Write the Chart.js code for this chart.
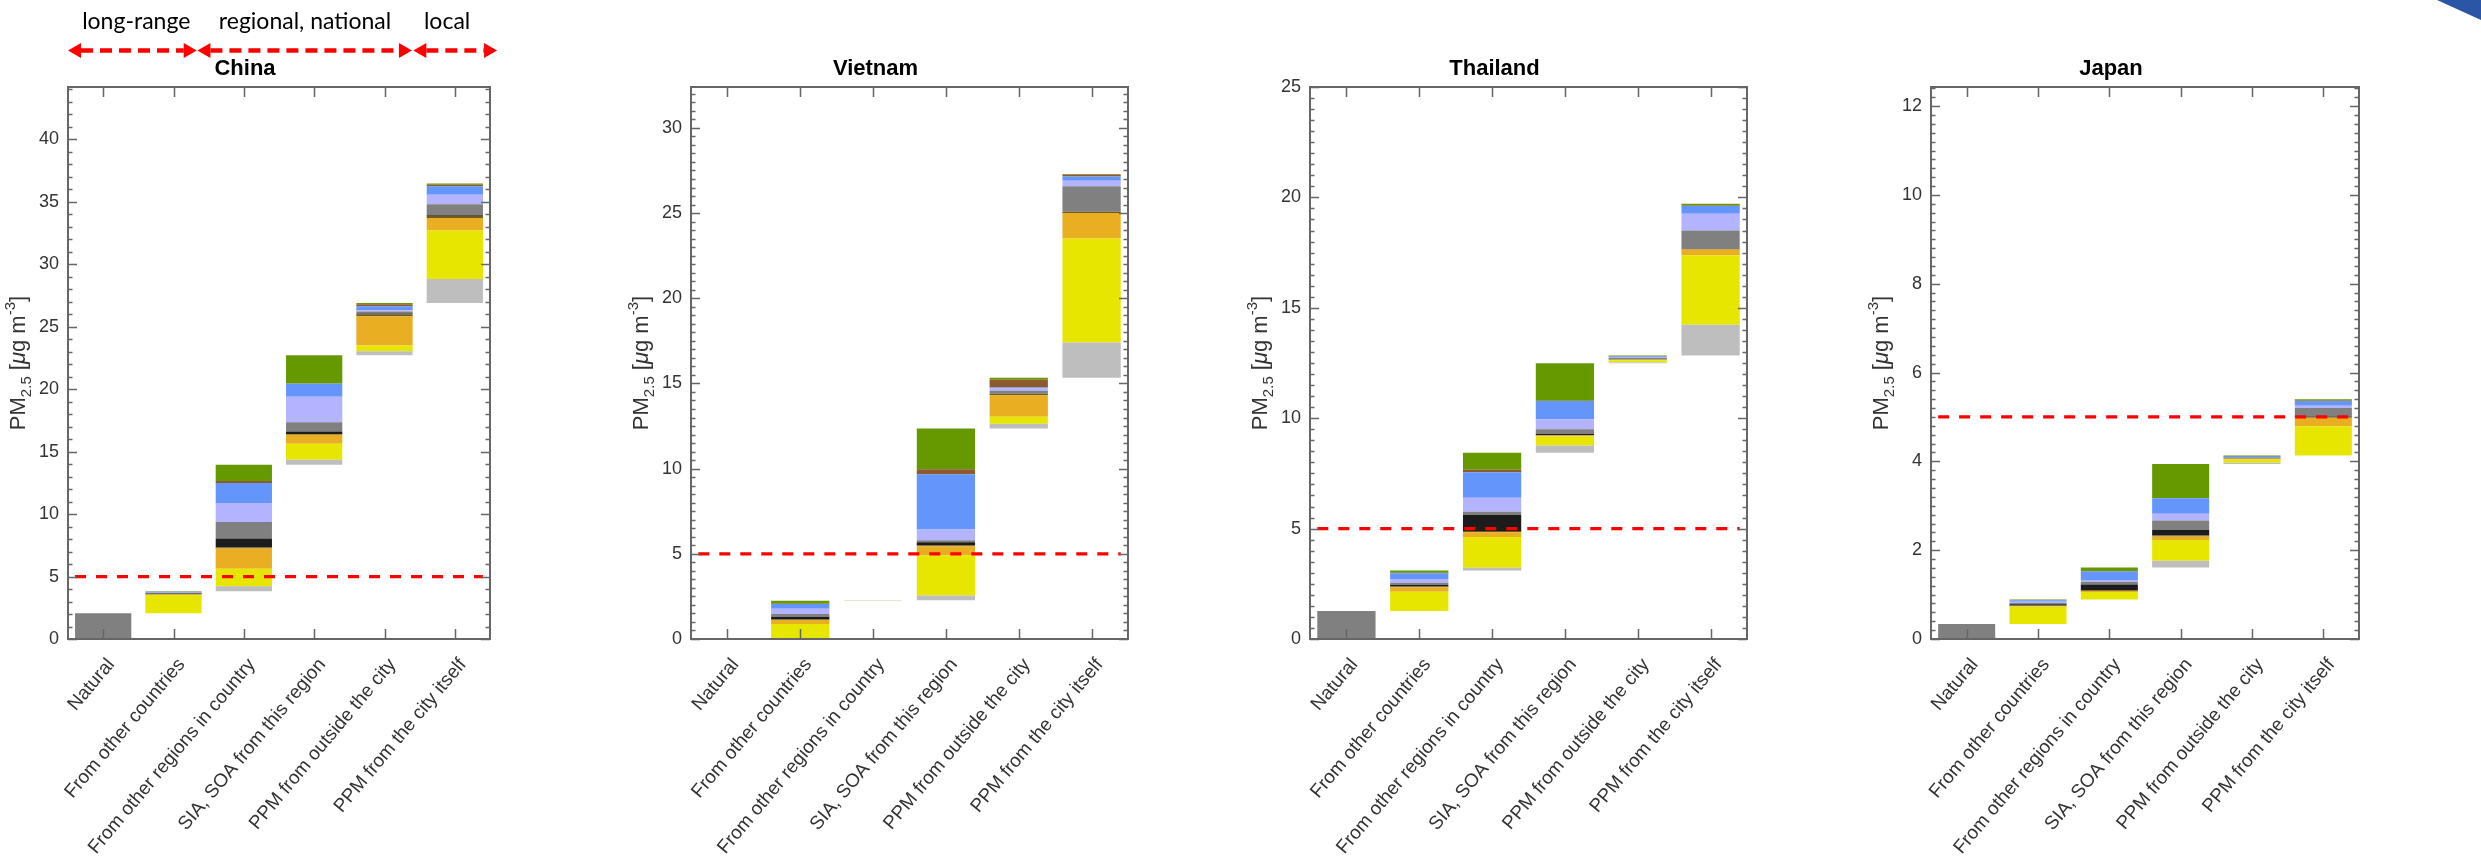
<!DOCTYPE html>
<html>
<head>
<meta charset="utf-8">
<title>PM2.5 source contributions</title>
<script src="https://cdn.jsdelivr.net/npm/chart.js@4.4.1/dist/chart.umd.min.js"></script>
<style>
  html, body { margin: 0; padding: 0; background: #ffffff; }
  body { width: 2481px; height: 861px; position: relative; overflow: hidden; }
  canvas { position: absolute; top: 0; }
  .corner { position: absolute; left: 2437px; top: 0; width: 44px; height: 20px;
            background: #2b55a5; clip-path: polygon(0 0, 100% 0, 100% 100%); }
</style>
</head>
<body>
<canvas id="chart0"></canvas>
<canvas id="chart1"></canvas>
<canvas id="chart2"></canvas>
<canvas id="chart3"></canvas>
<div class="corner"></div>
<script>
// ---- categories and panels ----
const categories = [
  'Natural',
  'From other countries',
  'From other regions in country',
  'SIA, SOA from this region',
  'PPM from outside the city',
  'PPM from the city itself'
];
const countries = ['China', 'Vietnam', 'Thailand', 'Japan'];

// stacked components, bottom to top
const componentNames = ['light grey', 'yellow', 'orange', 'dark olive', 'black',
                        'grey', 'lavender', 'blue', 'brown', 'green'];

// natural background level per country [µg m-3]
const naturalValues = [2.06, 0, 1.27, 0.34];

// contribution of each component, one row per source category (after Natural)
//                    lgrey yellow orange olive black  grey  lav   blue  brown green
const chinaSegments = [
  [0.00, 1.46, 0.04, 0.04, 0.04, 0.06, 0.03, 0.06, 0.00, 0.03],
  [0.40, 1.41, 1.61, 0.10, 0.70, 1.33, 1.52, 1.60, 0.16, 1.31],
  [0.40, 1.28, 0.72, 0.05, 0.20, 0.75, 2.03, 1.04, 0.02, 2.27],
  [0.32, 0.46, 2.35, 0.13, 0.08, 0.16, 0.10, 0.32, 0.16, 0.10],
  [1.92, 3.88, 1.01, 0.19, 0.05, 0.86, 0.77, 0.67, 0.13, 0.10]
];
const vietnamSegments = [
  [0.00, 0.88, 0.23, 0.04, 0.16, 0.16, 0.31, 0.27, 0.02, 0.18],
  [0.01, 0.01, 0.01, 0.00, 0.00, 0.00, 0.00, 0.00, 0.00, 0.00],
  [0.28, 2.36, 0.53, 0.06, 0.17, 0.12, 0.63, 3.24, 0.29, 2.40],
  [0.28, 0.41, 1.25, 0.10, 0.00, 0.16, 0.14, 0.06, 0.45, 0.12],
  [2.07, 6.11, 1.49, 0.08, 0.00, 1.49, 0.33, 0.24, 0.13, 0.02]
];
const thailandSegments = [
  [0.00, 0.87, 0.20, 0.04, 0.07, 0.10, 0.17, 0.26, 0.02, 0.10],
  [0.13, 1.39, 0.21, 0.06, 0.73, 0.14, 0.64, 1.15, 0.11, 0.78],
  [0.32, 0.41, 0.05, 0.02, 0.05, 0.21, 0.45, 0.83, 0.01, 1.70],
  [0.03, 0.10, 0.03, 0.01, 0.00, 0.08, 0.02, 0.05, 0.01, 0.02],
  [1.39, 3.15, 0.26, 0.02, 0.00, 0.84, 0.76, 0.35, 0.02, 0.08]
];
const japanSegments = [
  [0.00, 0.39, 0.01, 0.02, 0.02, 0.03, 0.03, 0.03, 0.00, 0.02],
  [0.00, 0.17, 0.02, 0.02, 0.13, 0.06, 0.04, 0.19, 0.01, 0.08],
  [0.15, 0.47, 0.08, 0.02, 0.13, 0.21, 0.15, 0.35, 0.00, 0.77],
  [0.03, 0.07, 0.02, 0.01, 0.00, 0.02, 0.01, 0.02, 0.00, 0.01],
  [0.00, 0.66, 0.19, 0.02, 0.01, 0.19, 0.05, 0.11, 0.01, 0.03]
];
const segmentsByCountry = [chinaSegments, vietnamSegments, thailandSegments, japanSegments];

// y axis ranges and tick spacing
const yMaxValues = [44.2, 32.4, 25, 12.43];
const yMajorSteps = [5, 5, 5, 2];
const yMinorSteps = [1, 0.5, 0.5, 0.2];

// WHO annual guideline
const guidelineValue = 5;

// spatial-scale annotation above the first panel
const scaleLabels = ['long-range', 'regional, national', 'local'];

// ---- styling ----
const componentColors = ['#bebebe', '#e6e600', '#e9ae21', '#6e5a1e', '#1c1c1c',
                         '#808080', '#b3b3ff', '#6495fa', '#8c5a2e', '#669900'];
const naturalColor = '#808080';
const frameColor = '#666666';
const textColor = '#333333';
const red = '#ff0000';
const FONT = '"Liberation Sans", Arial, sans-serif';

// plot-area placement for each panel (page pixels)
const plotLefts = [68, 691, 1310, 1931];
const plotRights = [490, 1128, 1747, 2359];
const AXIS_W = 68;
const PAD_R = 14;
const X_AXIS_H = 222;
const TITLE_SIZE = 22;

// ---- build waterfall datasets: each category starts where the previous ended ----
function buildDatasets(natural, segments) {
  const sets = [{
    label: 'Natural',
    data: categories.map((c, i) => (i === 0 && natural > 0) ? [0, natural] : null),
    backgroundColor: naturalColor
  }];
  let running = natural;
  const starts = segments.map(row => {
    const s = running;
    running += row.reduce((a, b) => a + b, 0);
    return s;
  });
  componentNames.forEach((name, j) => {
    const data = [null];
    segments.forEach((row, i) => {
      const lo = starts[i] + row.slice(0, j).reduce((a, b) => a + b, 0);
      data.push(row[j] > 0 ? [lo, lo + row[j]] : null);
    });
    sets.push({ label: name, data, backgroundColor: componentColors[j] });
  });
  return sets;
}

// ---- box frame with inward ticks, plus the guideline ----
const framePlugin = {
  id: 'frame',
  afterDatasetsDraw(chart, args, opts) {
    const { ctx, chartArea: { left, right, top, bottom }, scales: { x, y } } = chart;
    ctx.save();
    // dashed guideline from the first bar edge to the last bar edge
    const yg = y.getPixelForValue(opts.guideline);
    ctx.strokeStyle = red;
    ctx.lineWidth = 3.2;
    ctx.setLineDash([11, 10]);
    ctx.beginPath();
    ctx.moveTo(x.getPixelForValue(-0.4), yg);
    ctx.lineTo(x.getPixelForValue(categories.length - 0.6), yg);
    ctx.stroke();
    ctx.setLineDash([]);

    ctx.strokeStyle = frameColor;
    ctx.lineWidth = 1.5;
    ctx.beginPath();
    // minor ticks
    for (let v = 0; v <= y.max + 1e-6; v += opts.minor) {
      const r = v / opts.major;
      if (Math.abs(r - Math.round(r)) < 1e-6) continue;
      const py = Math.round(y.getPixelForValue(v)) + 0.5;
      ctx.moveTo(left, py); ctx.lineTo(left + 4.5, py);
      ctx.moveTo(right, py); ctx.lineTo(right - 4.5, py);
    }
    // major ticks
    y.ticks.forEach(t => {
      const py = Math.round(y.getPixelForValue(t.value)) + 0.5;
      ctx.moveTo(left, py); ctx.lineTo(left + 9, py);
      ctx.moveTo(right, py); ctx.lineTo(right - 9, py);
    });
    // category ticks on top and bottom
    categories.forEach((c, i) => {
      const px = Math.round(x.getPixelForValue(i)) + 0.5;
      ctx.moveTo(px, top); ctx.lineTo(px, top + 10);
      ctx.moveTo(px, bottom); ctx.lineTo(px, bottom - 10);
    });
    ctx.stroke();
    ctx.lineWidth = 2;
    ctx.strokeRect(left, top, right - left, bottom - top);
    ctx.restore();
  }
};

// ---- y-axis title with subscript / superscript ----
const yTitlePlugin = {
  id: 'yTitle',
  afterDraw(chart) {
    const { ctx, chartArea } = chart;
    const big = 22, small = 15;
    const parts = [
      { t: 'PM', f: `${big}px ${FONT}`, dy: 0 },
      { t: '2.5', f: `${small}px ${FONT}`, dy: 6 },
      { t: ' [', f: `${big}px ${FONT}`, dy: 0 },
      { t: '\u03bc', f: `italic ${big}px ${FONT}`, dy: 0 },
      { t: 'g m', f: `${big}px ${FONT}`, dy: 0 },
      { t: '-3', f: `${small}px ${FONT}`, dy: -10 },
      { t: ']', f: `${big}px ${FONT}`, dy: 0 }
    ];
    ctx.save();
    let total = 0;
    parts.forEach(p => { ctx.font = p.f; p.w = ctx.measureText(p.t).width; total += p.w; });
    ctx.translate(chartArea.left - 43, (chartArea.top + chartArea.bottom) / 2);
    ctx.rotate(-Math.PI / 2);
    ctx.fillStyle = textColor;
    ctx.textBaseline = 'alphabetic';
    ctx.textAlign = 'left';
    let px = -total / 2;
    parts.forEach(p => { ctx.font = p.f; ctx.fillText(p.t, px, p.dy); px += p.w; });
    ctx.restore();
  }
};

// ---- double-headed dashed arrows describing the spatial scale ----
const scaleArrowPlugin = {
  id: 'scaleArrows',
  afterDraw(chart, args, opts) {
    const { ctx, scales: { x } } = chart;
    const yArrow = 50.5, head = 13, half = 7.5;
    ctx.save();
    opts.spans.forEach((span, k) => {
      const x1 = x.getPixelForValue(span[0]);
      const x2 = x.getPixelForValue(span[1]);
      ctx.strokeStyle = red;
      ctx.lineWidth = 4.5;
      ctx.setLineDash([12, 7]);
      ctx.beginPath();
      ctx.moveTo(x1 + head, yArrow);
      ctx.lineTo(x2 - head, yArrow);
      ctx.stroke();
      ctx.setLineDash([]);
      ctx.fillStyle = red;
      ctx.beginPath();
      ctx.moveTo(x1, yArrow); ctx.lineTo(x1 + head, yArrow - half); ctx.lineTo(x1 + head, yArrow + half);
      ctx.closePath(); ctx.fill();
      ctx.beginPath();
      ctx.moveTo(x2, yArrow); ctx.lineTo(x2 - head, yArrow - half); ctx.lineTo(x2 - head, yArrow + half);
      ctx.closePath(); ctx.fill();
      ctx.fillStyle = '#000000';
      ctx.font = '23px Lato, "Open Sans", sans-serif';
      ctx.textAlign = 'center';
      ctx.textBaseline = 'alphabetic';
      ctx.fillText(scaleLabels[k], x.getPixelForValue(opts.textAt[k]), 29);
    });
    ctx.restore();
  }
};

countries.forEach((country, idx) => {
  const canvas = document.getElementById('chart' + idx);
  const left = plotLefts[idx] - AXIS_W;
  const width = plotRights[idx] - plotLefts[idx] + AXIS_W + PAD_R;
  canvas.style.left = left + 'px';
  canvas.width = width;
  canvas.height = 861;

  const plugins = [framePlugin, yTitlePlugin];
  if (idx === 0) plugins.push(scaleArrowPlugin);

  // title centred at y = 68.5, plot area starting at y = 87
  const layoutTop = 68.5 - TITLE_SIZE * 0.6;
  const titleGap = 87 - layoutTop - TITLE_SIZE * 1.2;

  new Chart(canvas, {
    type: 'bar',
    data: { labels: categories, datasets: buildDatasets(naturalValues[idx], segmentsByCountry[idx]) },
    plugins,
    options: {
      responsive: false,
      animation: false,
      devicePixelRatio: 1,
      layout: { padding: { left: 0, right: PAD_R, top: layoutTop, bottom: 0 } },
      datasets: { bar: { grouped: false, barPercentage: 0.8, categoryPercentage: 1, borderWidth: 0 } },
      plugins: {
        legend: { display: false },
        tooltip: { enabled: false },
        title: {
          display: true, text: country, color: '#000000',
          font: { family: FONT, size: TITLE_SIZE, weight: 'bold' },
          padding: { top: 0, bottom: titleGap }
        },
        frame: { guideline: guidelineValue, major: yMajorSteps[idx], minor: yMinorSteps[idx] },
        scaleArrows: { spans: [[-0.5, 1.33], [1.34, 4.39], [4.41, 5.6]], textAt: [0.47, 2.87, 4.89] }
      },
      scales: {
        x: {
          offset: true,
          grid: { display: false, drawTicks: false },
          border: { display: false },
          ticks: {
            autoSkip: false, minRotation: 50, maxRotation: 50,
            color: textColor, font: { family: FONT, size: 19 },
            padding: 15, labelOffset: 8
          },
          afterFit(scale) { scale.height = X_AXIS_H; }
        },
        y: {
          min: 0, max: yMaxValues[idx],
          grid: { display: false, drawTicks: false },
          border: { display: false },
          ticks: {
            stepSize: yMajorSteps[idx], includeBounds: false,
            color: textColor, font: { family: FONT, size: 18 }, padding: 9
          },
          afterFit(scale) { scale.width = AXIS_W; }
        }
      }
    }
  });
});
</script>
</body>
</html>
